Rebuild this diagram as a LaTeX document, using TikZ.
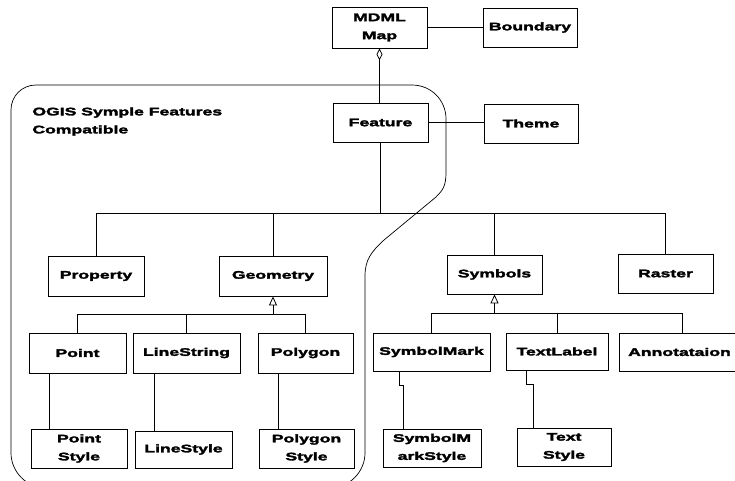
\documentclass[tikz,border=0pt]{standalone}
\usepackage{fontspec}
\newfontfamily\lbl{Liberation Sans}[UprightFont=* Bold, FakeStretch=1.6, FakeBold=2.6]
\usetikzlibrary{arrows.meta,calc}
\begin{document}
\begin{tikzpicture}[x=1pt,y=-1pt,
  line width=0.8pt,
  font=\lbl\fontsize{11}{18}\selectfont,
  box/.style={draw, inner sep=0pt, align=center},
  link/.style={draw},
  aggr/.style={{Diamond[open,length=12pt,width=6pt]}-},
  gen/.style={-{Triangle[open,length=9pt,width=8pt]}},
  region/.style={draw, line width=0.7pt}]
\useasboundingbox (0,0) rectangle (735,480);

% classes
\node[box, minimum width=95, minimum height=41] (mdml) at (379.5,27.5) {MDML\\Map};
\node[box, minimum width=94, minimum height=39] (boundary) at (530,27.5) {Boundary};
\node[box, minimum width=95, minimum height=39] (feature) at (380.5,122.5) {Feature};
\node[box, minimum width=94, minimum height=39] (theme) at (531,123.5) {Theme};

\node[box, minimum width=96, minimum height=40] (property) at (96,276) {Property};
\node[box, minimum width=108, minimum height=40] (geometry) at (273,276) {Geometry};
\node[box, minimum width=95, minimum height=39] (symbols) at (494.5,274.5) {Symbols};
\node[box, minimum width=95, minimum height=39] (raster) at (665.5,273.5) {Raster};

\node[box, minimum width=97, minimum height=40] (point) at (77.5,353) {Point};
\node[box, minimum width=107, minimum height=40] (linestring) at (186.5,353) {LineString};
\node[box, minimum width=95, minimum height=40] (polygon) at (305.5,353) {Polygon};
\node[box, minimum width=117, minimum height=38] (symbolmark) at (431.5,352) {SymbolMark};
\node[box, minimum width=102, minimum height=37] (textlabel) at (557,351.5) {TextLabel};
\node[box, minimum width=121, minimum height=38] (annotation) at (679.5,352) {Annotataion};

\node[box, minimum width=96, minimum height=39] (pointstyle) at (79,448.5) {Point\\Style};
\node[box, minimum width=97, minimum height=37] (linestyle) at (183.5,449.5) {LineStyle};
\node[box, minimum width=95, minimum height=39] (polygonstyle) at (306.5,448.5) {Polygon\\Style};
\node[box, minimum width=98, minimum height=38] (smstyle) at (432,448) {SymbolM\\arkStyle};
\node[box, minimum width=94, minimum height=38] (textstyle) at (564,447) {Text\\Style};

% package region
\node[anchor=north west, align=left, inner sep=0pt] (pkg) at (32,107) {OGIS Symple Features\\Compatible};
\draw[region] (446,172) .. controls (446,186) and (443,190) .. (436,197)
  -- (384,240) .. controls (371,252) and (365,260) .. (365,276)
  -- (365,453) .. controls (365,472) and (349,488) .. (330,488)
  -- (46,488) .. controls (27,488) and (11,472) .. (11,453)
  -- (11,110) .. controls (11,96) and (22,85) .. (36,85)
  -- (412,85) .. controls (431,85) and (446,100) .. (446,119)
  -- cycle;

% associations
\coordinate (bus) at (0,213);
\coordinate (gbus) at (0,314);
\coordinate (sbus) at (0,313);
\draw[link] (mdml.east) -- (boundary.west);
\draw[link] (feature.east) -- (feature.east -| theme.west);
\draw[link, aggr] (mdml.south) -- (mdml.south |- feature.north);
\draw[link] (feature.south) -- (feature.south |- bus);
\draw[link] (property.north) -- (property.north |- bus) -- (raster.north |- bus) -- (raster.north);
\draw[link] (geometry.north) -- (geometry.north |- bus);
\draw[link] (symbols.north) -- (symbols.north |- bus);

% generalisations
\draw[link] (point.north) -- (point.north |- gbus) -- (polygon.north |- gbus) -- (polygon.north);
\draw[link] (linestring.north) -- (linestring.north |- gbus);
\draw[link, gen] (geometry.south |- gbus) -- (geometry.south);
\draw[link] (symbolmark.north) -- (symbolmark.north |- sbus) -- ([xshift=2.5]annotation.north |- sbus) -- ([xshift=2.5]annotation.north);
\draw[link] (textlabel.north) -- (textlabel.north |- sbus);
\draw[link, gen] (symbols.south |- sbus) -- (symbols.south);

% styles
\draw[link] ([xshift=-28.5]point.south) -- ([xshift=-28.5]point.south |- pointstyle.north);
\draw[link] ([xshift=-32.5]linestring.south) -- ([xshift=-32.5]linestring.south |- linestyle.north);
\draw[link] ([xshift=-27.5]polygon.south) -- ([xshift=-27.5]polygon.south |- polygonstyle.north);
\draw[link] ([xshift=-32.5]symbolmark.south) -- ++(0,14) -| ([xshift=-29]smstyle.north);
\draw[link] ([xshift=-31]textlabel.south) -- ++(0,14) -| ([xshift=-31]textstyle.north);
\end{tikzpicture}
\end{document}
